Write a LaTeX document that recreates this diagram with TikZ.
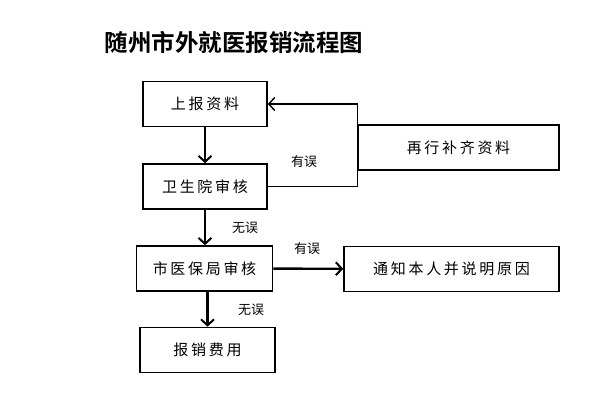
\documentclass[tikz,border=0pt]{standalone}
\usepackage{fontspec}
\newfontfamily\cjk{Noto Sans CJK SC}
\newfontfamily\cjkbox[LetterSpace=18]{Noto Sans CJK SC}
\newfontfamily\cjkbf{Noto Sans CJK SC Bold}
\usetikzlibrary{arrows.meta}
\begin{document}
\begin{tikzpicture}[x=1pt,y=1pt,yscale=-1,xscale=1,
    box/.style={draw,line width=1.6pt,inner sep=0pt,font=\cjkbox\fontsize{15}{15}\selectfont},
    lbl/.style={inner sep=0.75pt,font=\cjk\fontsize{13}{13}\selectfont},
    flow/.style={line width=2.4pt,-{Straight Barb[length=6pt,width=13pt,line width=2pt]}},
    back/.style={line width=1.4pt,-{Straight Barb[length=6pt,width=13pt,line width=1.4pt]}}]
            \useasboundingbox (0,0) rectangle (614,396);
            \node (title) at (234,42) {\cjkbf\fontsize{23.5}{23.5}\selectfont 随州市外就医报销流程图};
            \node [box,minimum width=124pt,minimum height=45pt] (shangbao) at (205,104) {上报资料};
            \node [box,minimum width=124pt,minimum height=45pt] (weisheng) at (205,186.5) {卫生院审核};
            \node [box,minimum width=136pt,minimum height=45pt] (yibao) at (204.5,268.5) {市医保局审核};
            \node [box,minimum width=215pt,minimum height=45pt] (tongzhi) at (451.5,269) {通知本人并说明原因};
            \node [box,minimum width=135pt,minimum height=45pt] (baoxiao) at (207.5,350) {报销费用};
            \node [box,minimum width=201pt,minimum height=45pt] (buqi) at (458.5,147.5) {再行补齐资料};
            % connectors
            \draw [flow] (shangbao) -- (weisheng);
            \draw [flow] (weisheng) -- (yibao.north -| weisheng);
            \draw [flow] (yibao) -- (tongzhi);
            \draw [flow] (yibao.south -| baoxiao) -- (baoxiao);
            \draw [back] (weisheng.east) -- (weisheng.east -| buqi.west) -- (buqi.west |- shangbao.east) -- (shangbao.east);
            % labels
            \node [lbl] (cuo1) at (304,162) {有误};
            \node [lbl] (dui1) at (245,228) {无误};
            \node [lbl] (cuo2) at (307,249) {有误};
            \node [lbl] (dui2) at (251,310) {无误};
\end{tikzpicture}
\end{document}
